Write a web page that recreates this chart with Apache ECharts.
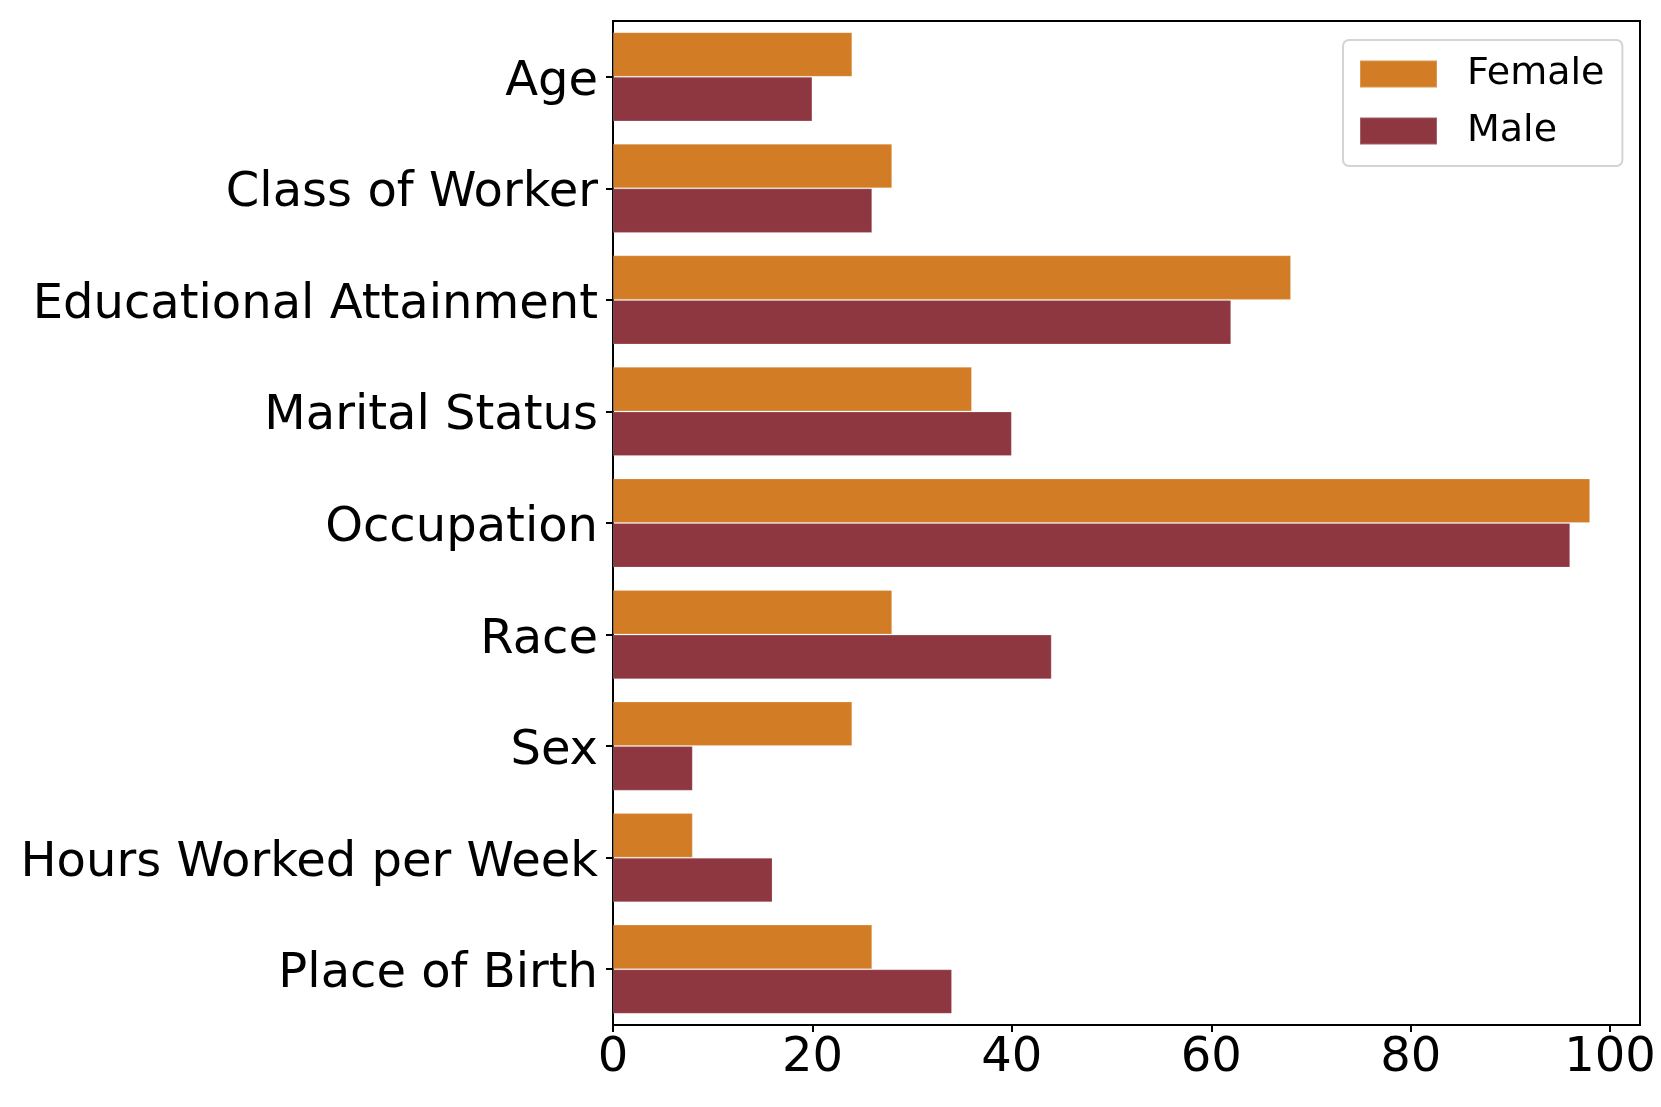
<!DOCTYPE html>
<html>
<head>
<meta charset="utf-8">
<script src="https://cdn.jsdelivr.net/npm/echarts@6/dist/echarts.min.js"></script>
<style>
html,body{margin:0;padding:0;background:#fff;}
#chart{width:1661px;height:1107px;}
</style>
</head>
<body>
<div id="chart"></div>
<script>
const categories = ["Age", "Class of Worker", "Educational Attainment", "Marital Status", "Occupation", "Race", "Sex", "Hours Worked per Week", "Place of Birth"];
const femaleValues = [24, 28, 68, 36, 98, 28, 24, 8, 26];
const maleValues = [20, 26, 62, 40, 96, 44, 8, 16, 34];
const xTicks = [0, 20, 40, 60, 80, 100];
const seriesNames = ["Female", "Male"];

const FONT = "DejaVu Sans";
const chart = echarts.init(document.getElementById('chart'), null, {renderer: 'canvas'});
chart.setOption({
  animation: false,
  backgroundColor: '#ffffff',
  grid: {left: 613, right: 21, top: 21, bottom: 82, show: true, borderColor: '#000', borderWidth: 2,
         backgroundColor: 'transparent', containLabel: false, outerBoundsMode: 'none'},
  legend: {
    data: seriesNames,
    orient: 'vertical',
    left: 1343, top: 40,
    itemWidth: 77, itemHeight: 27, itemGap: 13,
    padding: [12, 18, 13, 16],
    borderColor: '#d4d4d4', borderWidth: 2, borderRadius: 6,
    icon: 'rect',
    textStyle: {fontFamily: FONT, fontSize: 38, color: '#000', lineHeight: 38, padding: [6, 0, 0, 25]}
  },
  xAxis: {
    type: 'value', min: 0, max: 103,
    splitLine: {show: false},
    axisLine: {show: true, lineStyle: {color: '#000', width: 2}},
    axisTick: {show: true, length: 7, lineStyle: {color: '#000', width: 2}, customValues: xTicks},
    axisLabel: {fontFamily: FONT, fontSize: 48, color: '#000', margin: 10, customValues: xTicks}
  },
  yAxis: {
    type: 'category', data: categories, inverse: true,
    axisLine: {show: true, lineStyle: {color: '#000', width: 2}},
    axisTick: {show: true, alignWithLabel: true, length: 7, lineStyle: {color: '#000', width: 2}},
    axisLabel: {fontFamily: FONT, fontSize: 48, color: '#000', margin: 15, verticalAlign: 'top', lineHeight: 11}
  },
  series: [
    {name: seriesNames[0], type: 'bar', data: femaleValues, barGap: '0%', barCategoryGap: '20%',
     itemStyle: {color: '#D27D26', borderColor: 'rgba(255,255,255,0.2)', borderWidth: 1}},
    {name: seriesNames[1], type: 'bar', data: maleValues, barGap: '0%', barCategoryGap: '20%',
     itemStyle: {color: '#8E3741', borderColor: 'rgba(255,255,255,0.2)', borderWidth: 1}}
  ]
});
</script>
</body>
</html>
